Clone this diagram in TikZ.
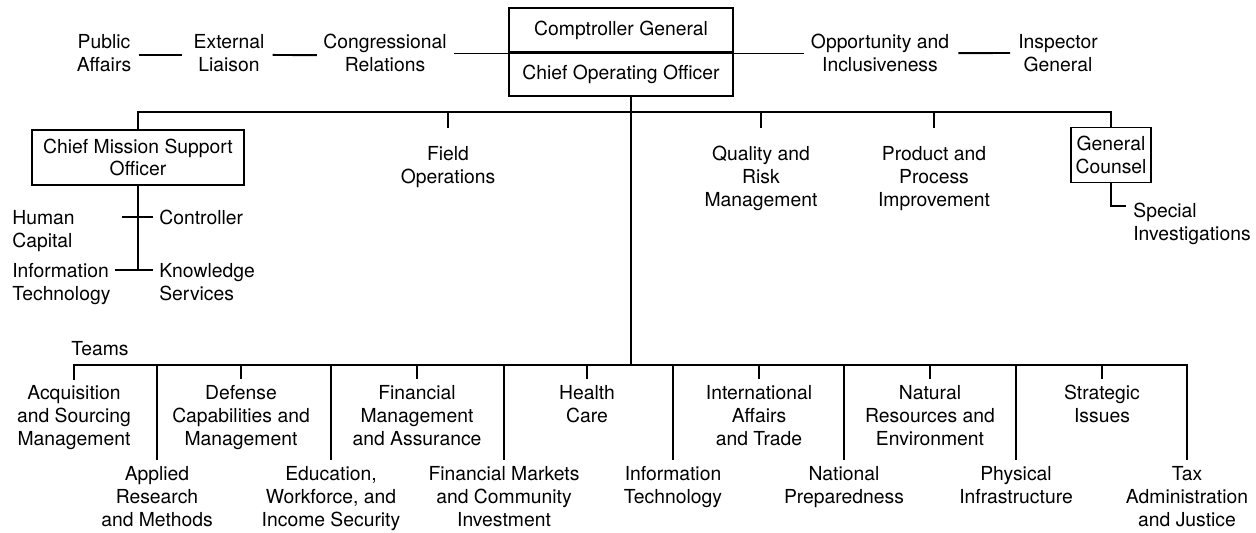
\documentclass[tikz,border=0pt]{standalone}
\usepackage{fontspec}
\setmainfont{TeX Gyre Heros}
\newcommand\orgfont{\fontsize{11}{13}\selectfont}
\tikzset{
  lbl/.style={inner sep=0pt, align=center, anchor=north, font=\orgfont},
  lbll/.style={lbl, align=left, anchor=north west},
  unit/.style={draw, line width=0.75pt, inner sep=0pt, align=center, font=\orgfont},
  headbox/.style={unit, minimum width=4.48cm, minimum height=0.88cm},
  link/.style={line width=1.3pt},
  sideline/.style={line width=1.1pt},
  thinline/.style={line width=0.7pt}
}
\begin{document}
\begin{tikzpicture}[x=0.02cm, y=-0.02cm]
\useasboundingbox (0,0) rectangle (1256,533);

% top level
\node[headbox] (cg) at (621,30) {Comptroller General};
\node[headbox] (coo) at (621,74) {Chief Operating Officer};
\node[lbl] (pubaff) at (104,34) {Public\\Affairs};
\node[lbl] (extlia) at (229,34) {External\\Liaison};
\node[lbl] (congrel) at (385,34) {Congressional\\Relations};
\node[lbl] (opport) at (880,34) {Opportunity and\\Inclusiveness};
\node[lbl] (inspgen) at (1058,34) {Inspector\\General};

\draw[sideline] ([shift={(7,2)}]pubaff.east) -- ([shift={(-11,2)}]extlia.west);
\draw[sideline] ([shift={(8,2)}]extlia.east) -- ([shift={(-6,2)}]congrel.west);
\draw[thinline] ([shift={(7,0)}]congrel.east) -- ([shift={(-7,0)}]opport.west);
\draw[sideline] ([shift={(9,0)}]opport.east) -- ([shift={(-8,0)}]inspgen.west);

% staff offices
\coordinate (upbar) at (0,112);
\coordinate (teambar) at (0,365);
\coordinate (trunk) at ([shift={(10,0)}]coo.south);
\node[unit, minimum width=4.24cm, minimum height=1.1cm] (cmso) at (138,157.5) {Chief Mission Support\\Officer};
\node[lbl] (fieldops) at (448,146) {Field\\Operations};
\node[lbl] (qualrisk) at (761,146) {Quality and\\Risk\\Management};
\node[lbl] (prodproc) at (934,146) {Product and\\Process\\Improvement};
\node[unit, minimum width=1.6cm, minimum height=1.1cm] (gencoun) at (1111,155) {General\\Counsel};
\node[lbll] (specinv) at (1133,203) {Special\\Investigations};

\draw[link] (trunk) -- (trunk |- teambar);
\draw[link] (cmso.north) -- (cmso.north |- upbar) -- (gencoun.north |- upbar) -- (gencoun.north);
\foreach \n in {fieldops,qualrisk,prodproc}
  \draw[link] (\n.north |- upbar) -- ++(0,16);
\draw[link] (gencoun.south) |- ([shift={(-7,3)}]specinv.north west);

% mission support
\node[lbll] (humcap) at (12,210) {Human\\Capital};
\node[lbll] (control) at (159,210) {Controller};
\node[lbll] (infotec) at (12,263) {Information\\Technology};
\node[lbll] (knowserv) at (159,263) {Knowledge\\Services};
\draw[link] (cmso.south) -- ++(0,85);
\draw[link] ([shift={(-37,7)}]control.north west) -- ([shift={(-6,7)}]control.north west);
\draw[link] ([shift={(4,7)}]infotec.north east) -- ([shift={(-6,7)}]knowserv.north west);

% teams
\node[lbl] (teams) at (100,341) {Teams};
\node[lbl] (acqsrc) at (74,385) {Acquisition\\and Sourcing\\Management};
\node[lbl] (defcap) at (241,385) {Defense\\Capabilities and\\Management};
\node[lbl] (finmgmt) at (417,385) {Financial\\Management\\and Assurance};
\node[lbl] (health) at (587,385) {Health\\Care};
\node[lbl] (intlaff) at (759,385) {International\\Affairs\\and Trade};
\node[lbl] (natres) at (930,385) {Natural\\Resources and\\Environment};
\node[lbl] (strat) at (1102,385) {Strategic\\Issues};
\node[lbl] (applied) at (157,466) {Applied\\Research\\and Methods};
\node[lbl] (educ) at (331,466) {Education,\\Workforce, and\\Income Security};
\node[lbl] (finmkt) at (504,466) {Financial Markets\\and Community\\Investment};
\node[lbl] (infotech) at (673,466) {Information\\Technology};
\node[lbl] (natprep) at (844,466) {National\\Preparedness};
\node[lbl] (physinf) at (1016,466) {Physical\\Infrastructure};
\node[lbl] (taxadm) at (1187,466) {Tax\\Administration\\and Justice};

\draw[link] ([shift={(0,-5)}]acqsrc.north) -- (acqsrc.north |- teambar) -- (taxadm.north |- teambar) -- ([shift={(0,-6)}]taxadm.north);
\foreach \n in {defcap,finmgmt,health,intlaff,natres,strat}
  \draw[link] (\n.north |- teambar) -- ++(0,14);
\foreach \n in {applied,educ,finmkt,infotech,natprep,physinf}
  \draw[link] (\n.north |- teambar) -- ([shift={(0,-6)}]\n.north);
\end{tikzpicture}
\end{document}
